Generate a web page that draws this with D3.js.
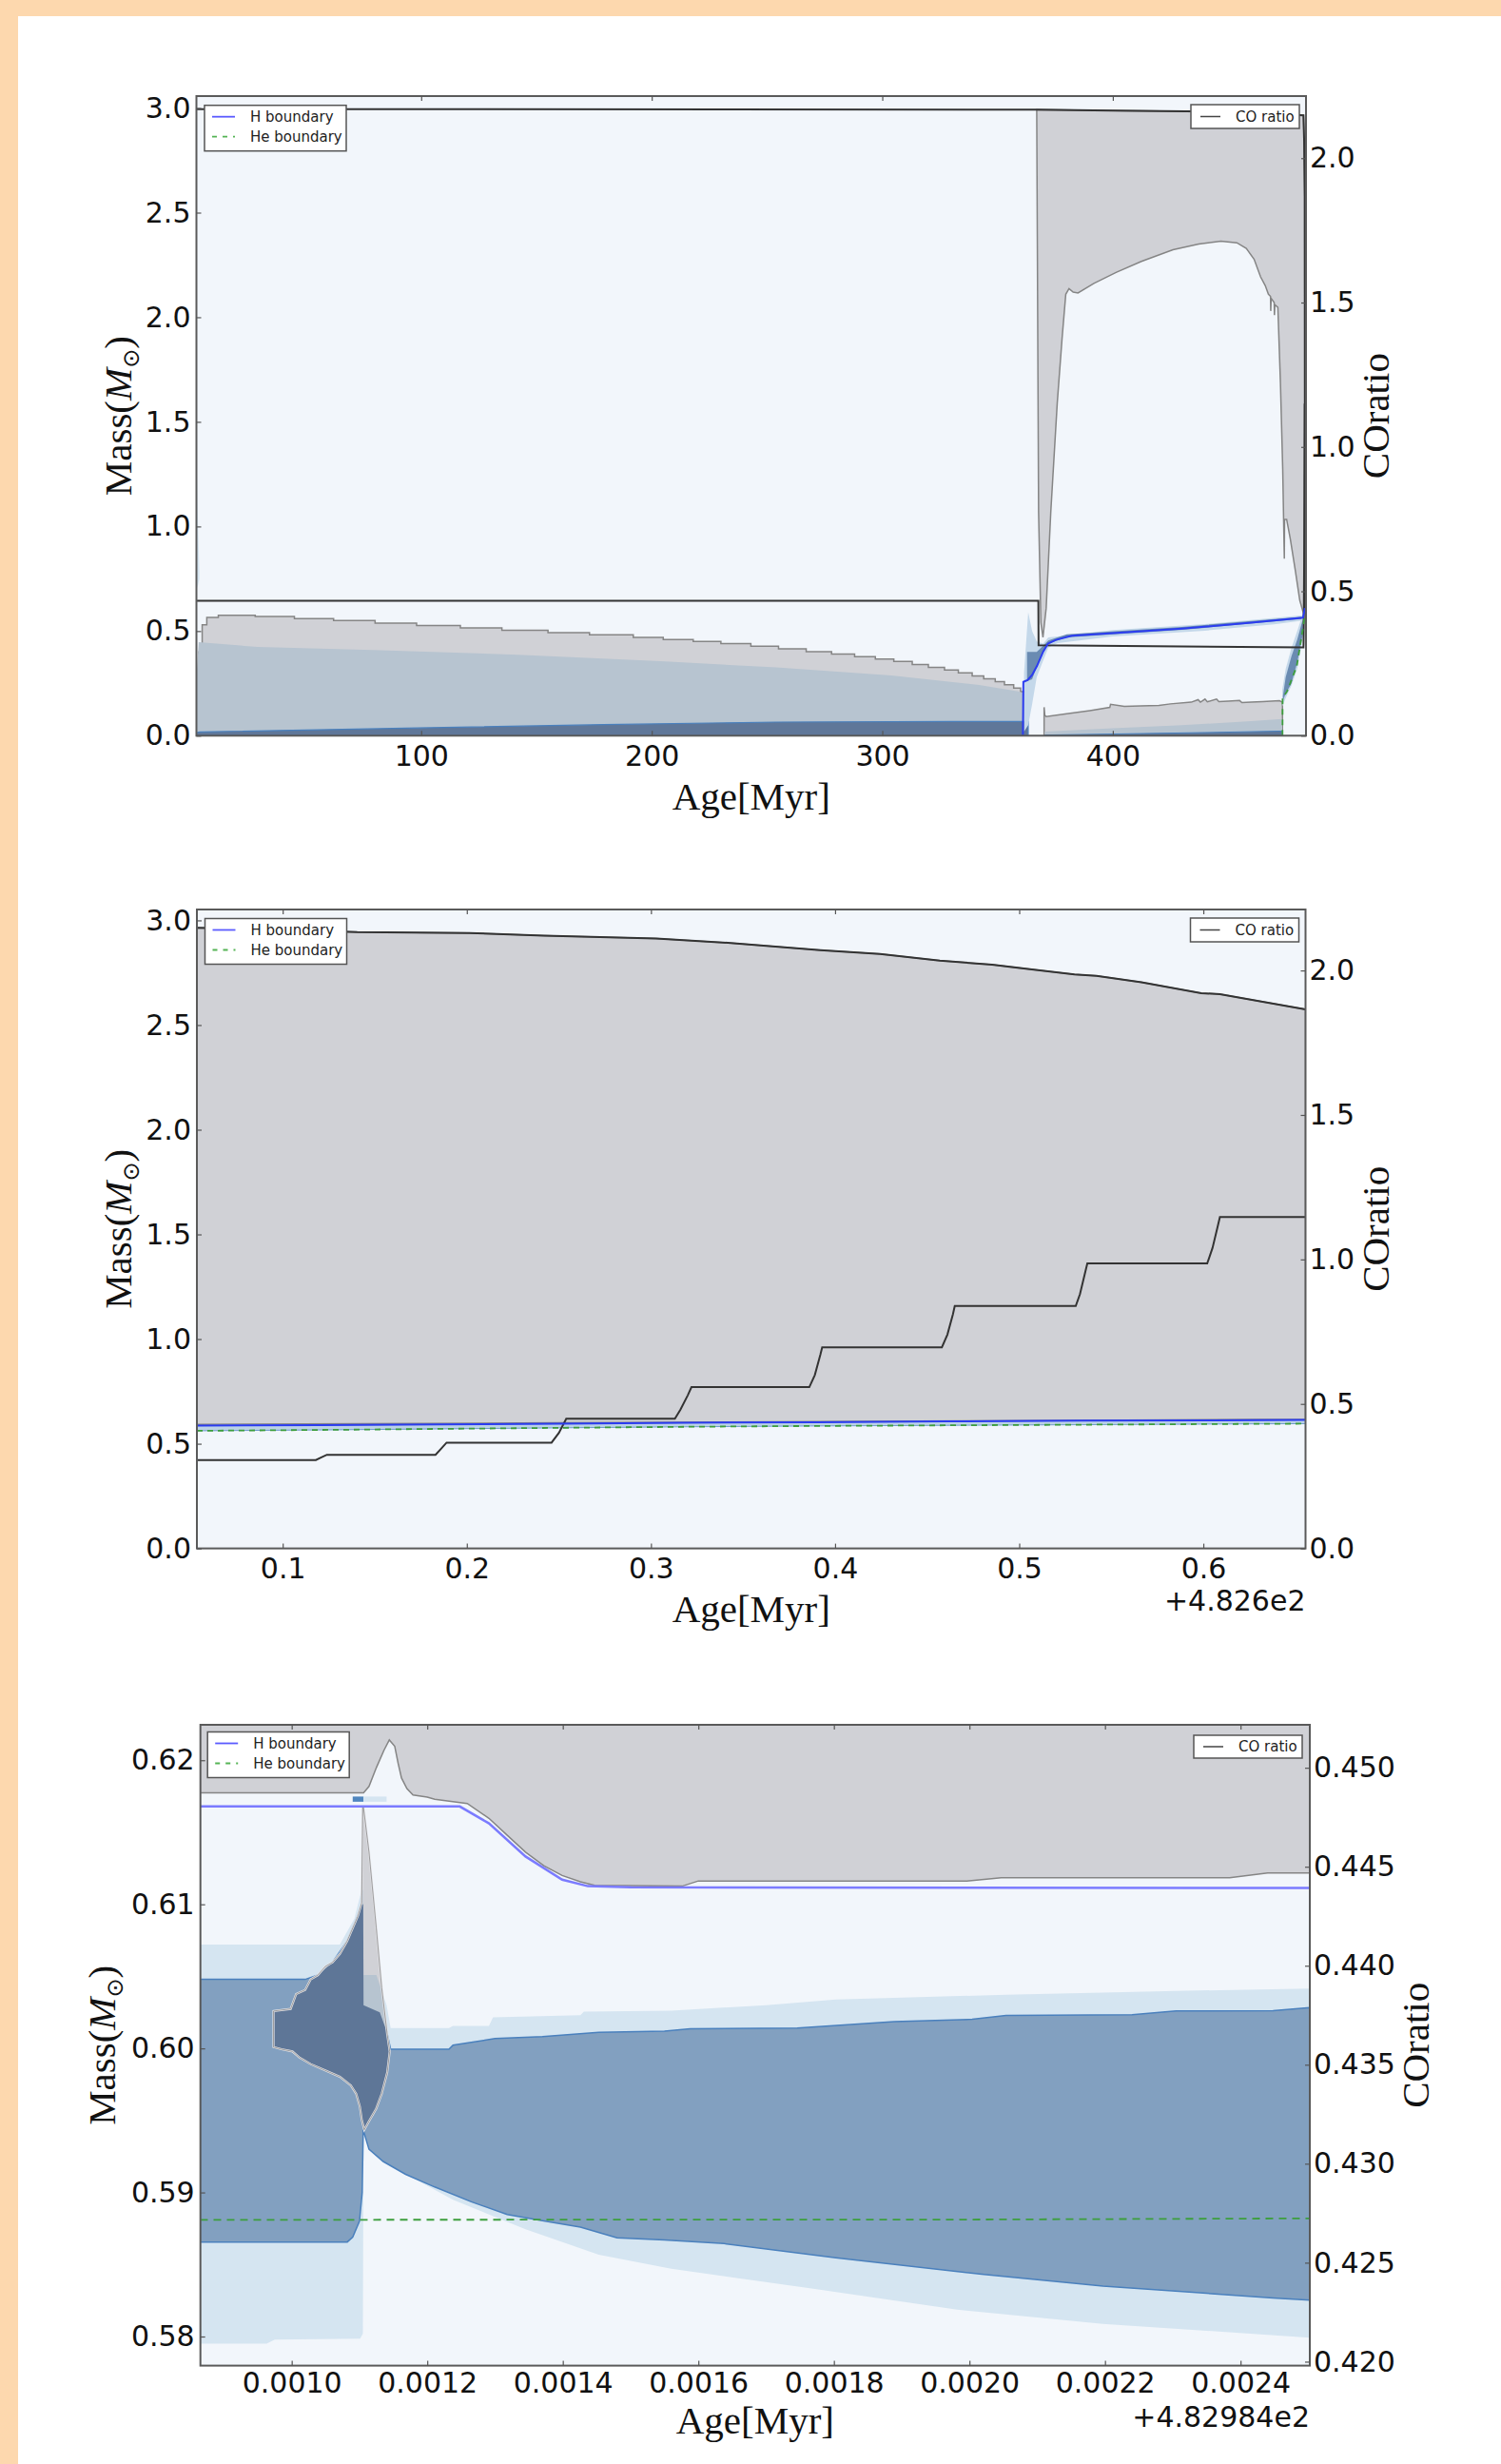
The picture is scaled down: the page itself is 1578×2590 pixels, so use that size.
<!DOCTYPE html>
<html><head><meta charset="utf-8">
<script src="https://cdn.jsdelivr.net/npm/d3@7"></script>
<style>body{margin:0;background:#fff}svg{display:block}</style>
</head><body>
<svg id="fig" width="1578" height="2590"></svg>
<script>
// ================= DATA =================
// ---- Panel 1 : whole evolution, Age [Myr] ----
const P1_X_TICKS = [100, 200, 300, 400];
const P1_Y_TICKS = [0, 0.5, 1.0, 1.5, 2.0, 2.5, 3.0];
const P1_Y2_TICKS = [0, 0.5, 1.0, 1.5, 2.0];
const P1_STAR_MASS = [[2.5,2.995],[367,2.992],[400,2.988],[450,2.982],[482.7,2.965],[483.0,2.84],[483.25,2.58],[483.35,0.61]];
const P1_ENV_BOTTOM = [[367.0,2.98],[367.8,1.07],[368.8,0.54],[369.7,0.47],[371.1,0.61],[373.1,1.07],[375.9,1.59],[378.0,1.90],[379.6,2.11],[381.0,2.137],[382.8,2.12],[384.9,2.116],[391.8,2.162],[401.4,2.214],[412.4,2.267],[426.1,2.323],[437.3,2.35],[446.9,2.364],[453.8,2.356],[457.9,2.329],[461.3,2.277],[464.1,2.193],[466.1,2.152],[467.5,2.11],[468.4,2.10],[468.5,2.03],[468.7,2.09],[470.0,2.07],[470.1,2.01],[470.3,2.06],[471.6,2.047],[472.7,1.69],[473.7,1.274],[474.3,0.90],[474.4,0.846],[474.5,1.034],[475.4,1.034],[477.0,0.94],[479.1,0.794],[481.1,0.647],[482.7,0.585],[483.0,0.59],[483.25,0.60],[483.35,0.605]];
const P1_MS_CORE = [[2.6,0.21],[3.5,0.40],[5,0.53],[7,0.565],[12,0.576],[28,0.570],[45,0.560],[62,0.550],[80,0.538],[98,0.527],[117,0.515],[135,0.504],[155,0.493],[173,0.482],[192,0.470],[205,0.460],[218,0.450],[230,0.440],[243,0.428],[255,0.415],[267,0.402],[278,0.390],[288,0.378],[297,0.366],[305,0.355],[313,0.340],[320,0.326],[327,0.314],[333,0.300],[339,0.286],[344,0.272],[349,0.258],[353,0.244],[357,0.228],[360,0.210],[362,0.20]];
const P1_MS_STEEL = [[2.6,0.30],[3.5,0.447],[29,0.424],[79,0.409],[142,0.387],[204,0.356],[254,0.326],[304,0.288],[342,0.242],[359,0.212],[362,0.20]];
const P1_MS_BURN = [[2.6,0.015],[4,0.018],[104,0.038],[179,0.053],[254,0.065],[330,0.068],[363.3,0.068]];
const P1_HE_CORE = [[370.2,0.0],[370.2,0.136],[370.5,0.098],[371.1,0.091],[380,0.105],[390,0.12],[398.7,0.135],[399,0.150],[405,0.140],[412,0.142],[420,0.145],[425,0.152],[434,0.160],[437,0.172],[438,0.16],[440,0.175],[441,0.162],[445,0.175],[446,0.163],[450,0.165],[455,0.168],[456,0.158],[460,0.160],[465,0.163],[472.3,0.167],[473.6,0.16],[473.6,0.0]];
const P1_HE_STEEL = [[370.5,0.02],[400,0.035],[430,0.05],[460,0.07],[473.5,0.08]];
const P1_HE_BURN = [[370.5,0.003],[400,0.008],[440,0.015],[473.5,0.022]];
const P1_PRE_MS = [[2.5,0.70,1.35],[3.2,0.72,1.0],[3.8,0.75,0.78]];
const P1_H_SHELL_LIGHT = [[361.5,0.02,0.30],[363.3,0.05,0.59],[365,0.15,0.50],[367,0.28,0.45],[369.8,0.36,0.44],[372,0.42,0.47],[376,0.442,0.474],[400,0.474,0.505],[440,0.502,0.533],[470,0.532,0.563],[482.5,0.550,0.575]];
const P1_H_SHELL_DARK = [[362.8,0.26,0.40],[365,0.27,0.40],[367,0.33,0.40],[369.8,0.40,0.43],[372,0.44,0.455],[380,0.470,0.484],[430,0.506,0.520],[482.5,0.558,0.569]];
const P1_HE_SHELL_LIGHT = [[473.5,0.14,0.22],[475,0.18,0.32],[477.5,0.24,0.42],[480,0.32,0.50],[483,0.50,0.60]];
const P1_HE_SHELL_DARK = [[473.8,0.17,0.19],[475,0.20,0.28],[477.5,0.25,0.38],[480,0.35,0.46],[482.5,0.49,0.56]];
const P1_H_BOUNDARY = [[361.0,0.0],[361.1,0.10],[361.2,0.257],[363.0,0.265],[365,0.29],[367.1,0.333],[369.8,0.402],[371.9,0.44],[375.3,0.458],[382.2,0.478],[400,0.490],[430,0.512],[460,0.540],[482.5,0.564],[483.3,0.61]];
const P1_HE_BOUNDARY = [[473.6,0.0],[473.65,0.18],[475.6,0.212],[479.8,0.333],[482.5,0.515],[483.3,0.58]];
const P1_CO = [[2.5,0.467],[367.7,0.467],[367.8,0.313],[482.7,0.306],[482.75,0.32],[482.85,0.40],[483.0,0.60],[483.1,0.84],[483.25,1.15]];

// ---- Panel 2 : thermal pulses, Age - 482.6 [Myr] ----
const P2_OFFSET_LABEL = "+4.826e2";
const P2_X_TICKS = [0.1, 0.2, 0.3, 0.4, 0.5, 0.6];
const P2_Y_TICKS = [0, 0.5, 1.0, 1.5, 2.0, 2.5, 3.0];
const P2_Y2_TICKS = [0, 0.5, 1.0, 1.5, 2.0];
const P2_STAR_MASS = [[0.0534,2.965],[0.1,2.955],[0.1405,2.944],[0.2014,2.940],[0.2419,2.927],[0.3028,2.913],[0.3433,2.892],[0.392,2.858],[0.4244,2.84],[0.4569,2.808],[0.4853,2.788],[0.53,2.742],[0.542,2.735],[0.5664,2.704],[0.5989,2.652],[0.609,2.648],[0.6555,2.575]];
const P2_ENV_BOTTOM = [[0.0534,0.592],[0.25,0.600],[0.39,0.606],[0.534,0.612],[0.6555,0.617]];
const P2_H_BOUNDARY = [[0.0534,0.587],[0.12,0.589],[0.185,0.592],[0.25,0.596],[0.318,0.600],[0.39,0.603],[0.461,0.607],[0.534,0.610],[0.605,0.612],[0.6555,0.614]];
const P2_HE_BOUNDARY = [[0.0534,0.562],[0.12,0.566],[0.185,0.571],[0.25,0.576],[0.318,0.581],[0.39,0.585],[0.461,0.588],[0.534,0.591],[0.605,0.594],[0.6555,0.596]];
const P2_CO = [[0.0534,0.306],[0.118,0.306],[0.121,0.315],[0.124,0.324],[0.183,0.324],[0.186,0.345],[0.189,0.366],[0.246,0.366],[0.25,0.40],[0.254,0.449],[0.313,0.449],[0.316,0.48],[0.32,0.53],[0.322,0.558],[0.386,0.558],[0.389,0.60],[0.392,0.67],[0.393,0.696],[0.458,0.696],[0.461,0.74],[0.464,0.81],[0.465,0.839],[0.5307,0.839],[0.533,0.88],[0.536,0.96],[0.537,0.986],[0.6021,0.986],[0.605,1.04],[0.608,1.12],[0.609,1.147],[0.6555,1.147]];

// ---- Panel 3 : one pulse, Age - 482.984 [Myr] ----
const P3_OFFSET_LABEL = "+4.82984e2";
const P3_X_TICKS = [0.0010, 0.0012, 0.0014, 0.0016, 0.0018, 0.0020, 0.0022, 0.0024];
const P3_Y_TICKS = [0.58, 0.59, 0.60, 0.61, 0.62];
const P3_Y2_TICKS = [0.420, 0.425, 0.430, 0.435, 0.440, 0.445, 0.450];
const P3_ENV_BOTTOM = [[0.000865,0.61774],[0.001106,0.61774],[0.001114,0.61818],[0.001125,0.61950],[0.001136,0.62068],[0.001144,0.62141],[0.001152,0.62097],[0.001157,0.61979],[0.001162,0.61877],[0.001170,0.61803],[0.001179,0.61759],[0.001200,0.61744],[0.001211,0.61729],[0.001243,0.61709],[0.001259,0.61700],[0.001291,0.61597],[0.001318,0.61479],[0.001345,0.61362],[0.001372,0.61268],[0.001399,0.61200],[0.001426,0.61156],[0.001447,0.61132],[0.001576,0.61126],[0.001600,0.61162],[0.001996,0.61162],[0.002047,0.61185],[0.002384,0.61185],[0.002440,0.61217],[0.002503,0.61217]];
const P3_H_BOUNDARY = [[0.000865,0.61679],[0.001248,0.61679],[0.001291,0.61562],[0.001345,0.61332],[0.001399,0.61171],[0.001437,0.61126],[0.001500,0.61118],[0.002503,0.61113]];
const P3_HE_BOUNDARY = [[0.000865,0.58810],[0.002000,0.58812],[0.002503,0.58820]];
const P3_LIGHT_TOP = [[0.000865,0.60721],[0.001071,0.60721],[0.0010925,0.6090],[0.0011032,0.6110],[0.0011055,0.6110],[0.001106,0.6051],[0.001125,0.6051],[0.001140,0.6030],[0.001146,0.60141],[0.001232,0.60141],[0.001238,0.60156],[0.001291,0.60156],[0.001297,0.60215],[0.001426,0.60230],[0.001431,0.60255],[0.001560,0.60262],[0.001700,0.60300],[0.001803,0.60340],[0.002054,0.60372],[0.002305,0.60399],[0.002503,0.60415]];
const P3_LIGHT_BOTTOM = [[0.000865,0.57950],[0.000963,0.57950],[0.000975,0.57979],[0.001101,0.57985],[0.001105,0.58020],[0.001106,0.59435],[0.001109,0.59391],[0.001157,0.59156],[0.001238,0.58950],[0.001345,0.58744],[0.001453,0.58568],[0.001560,0.58470],[0.001767,0.58333],[0.001982,0.58186],[0.002197,0.58088],[0.002503,0.57991]];
const P3_BAND_TOP = [[0.000865,0.60479],[0.0010199,0.60479],[0.0010387,0.60509],[0.0010602,0.60597],[0.0010817,0.60744],[0.0010978,0.60921],[0.0011032,0.6100],[0.0011055,0.6100],[0.0011060,0.6030],[0.001130,0.6025],[0.001140,0.6012],[0.001146,0.59994],[0.001232,0.59994],[0.001238,0.60023],[0.001300,0.60068],[0.001370,0.60082],[0.001453,0.60112],[0.001550,0.60120],[0.001588,0.60136],[0.001746,0.60142],[0.001889,0.60185],[0.002004,0.60202],[0.002054,0.60228],[0.002240,0.60234],[0.002305,0.60260],[0.002448,0.60262],[0.002503,0.60283]];
const P3_BAND_BOTTOM = [[0.000865,0.58656],[0.001082,0.58656],[0.001090,0.58690],[0.001100,0.58800],[0.001104,0.59000],[0.0011055,0.59435],[0.001114,0.59300],[0.001135,0.59215],[0.001168,0.59126],[0.001211,0.59038],[0.001265,0.58935],[0.001318,0.58847],[0.001372,0.58803],[0.001426,0.58759],[0.001480,0.58685],[0.001550,0.58670],[0.001638,0.58645],[0.001803,0.58547],[0.002018,0.58432],[0.002197,0.58350],[0.002448,0.58268],[0.002503,0.58252]];
const P3_PULSE = [[0.0009731,0.60259],[0.0009984,0.60274],[0.0010065,0.60377],[0.0010199,0.60406],[0.0010280,0.60479],[0.0010387,0.60509],[0.0010495,0.60568],[0.0010602,0.60597],[0.0010710,0.60656],[0.0010817,0.60744],[0.0010925,0.60862],[0.0010978,0.60921],[0.0011032,0.61009],[0.0011048,0.61671],[0.0011059,0.61671],[0.0011140,0.61362],[0.0011247,0.60838],[0.0011328,0.60421],[0.0011409,0.60097],[0.0011446,0.59979],[0.0011409,0.59832],[0.0011328,0.59685],[0.0011247,0.59582],[0.0011140,0.59494],[0.0011070,0.59435],[0.0011032,0.59509],[0.0011005,0.59597],[0.0010952,0.59685],[0.0010871,0.59744],[0.0010710,0.59803],[0.0010495,0.59847],[0.0010280,0.59891],[0.0010118,0.59935],[0.0010011,0.59979],[0.0009849,0.59994],[0.0009731,0.60009]];
const P3_BLOBS = [[0.001090,0.001106,0.61712,0.61748,"dark"],[0.001106,0.001140,0.61712,0.61748,"light"]];

// ================= DRAWING =================
const C = {bg:'#f2f6fb', gray:'#d0d1d6', grayEdge:'#858585', light:'#d5e5f1', shellLight:'#c4d8ea', steel:'#b7c4d0',
  band:'#82a0c0', dark:'#5e7697', shellDark:'#6a8bb2', bandEdge:'#4a80bd', h:'#2b3cf0', he:'#3d9e3d', black:'#333'};
const FT = "'DejaVu Sans', sans-serif";
const FS = "'Liberation Serif', 'Times New Roman', serif";
const svg = d3.select('#fig');
const defs = svg.append('defs');
svg.append('rect').attr('width',1578).attr('height',2590).attr('fill','#fdd8ae');
svg.append('rect').attr('x',19).attr('y',17).attr('width',1559).attr('height',2573).attr('fill','#fff');

function makePanel(cfg){
  const x = d3.scaleLinear().domain(cfg.xDomain).range(cfg.xRange);
  const y = d3.scaleLinear().domain(cfg.yDomain).range(cfg.yRange);
  const y2 = d3.scaleLinear().domain(cfg.y2Domain).range(cfg.yRange);
  const [x0,x1] = cfg.xRange, [yb,yt] = cfg.yRange;
  const g = svg.append('g');
  defs.append('clipPath').attr('id',cfg.id+'clip').append('rect')
    .attr('x',x0).attr('y',yt).attr('width',x1-x0).attr('height',yb-yt);
  const plot = g.append('g').attr('clip-path',`url(#${cfg.id}clip)`);
  plot.append('rect').attr('x',x0).attr('y',yt).attr('width',x1-x0).attr('height',yb-yt).attr('fill',C.bg);
  const line = (ys)=>d3.line().x(d=>x(d[0])).y(d=>ys(d[1]));
  const closed = d3.line().x(d=>x(d[0])).y(d=>y(d[1])).curve(d3.curveLinearClosed);
  const areaUp = d3.area().x(d=>x(d[0])).y0(y(cfg.yDomain[0])).y1(d=>y(d[1]));
  const areaLoHi = d3.area().x(d=>x(d[0])).y0(d=>y(d[1])).y1(d=>y(d[2]));
  return {cfg,x,y,y2,x0,x1,yb,yt,g,plot,line,closed,areaUp,areaLoHi};
}
const band = (top,bottom)=>top.concat(bottom.slice().reverse());

function finishPanel(P){
  const c = P.cfg;
  P.g.append('rect').attr('x',P.x0).attr('y',P.yt).attr('width',P.x1-P.x0).attr('height',P.yb-P.yt)
    .attr('fill','none').attr('stroke','#5a5a5a').attr('stroke-width',2);
  const style = (sel)=>{ sel.attr('font-size',30).attr('font-family',FT).attr('color','#111');
    sel.select('.domain').remove(); sel.selectAll('.tick line').attr('stroke','#555').attr('stroke-width',1.2); };
  P.g.append('g').attr('transform',`translate(0,${P.yb})`)
    .call(d3.axisBottom(P.x).tickValues(c.xTicks).tickFormat(d3.format(c.xFmt)).tickSizeInner(-5).tickSizeOuter(0).tickPadding(c.xPad)).call(style);
  P.g.append('g').attr('transform',`translate(0,${P.yt})`)
    .call(d3.axisTop(P.x).tickValues(c.xTicks).tickFormat('').tickSizeInner(-5).tickSizeOuter(0)).call(style);
  P.g.append('g').attr('transform',`translate(${P.x0},0)`)
    .call(d3.axisLeft(P.y).tickValues(c.yTicks).tickFormat(d3.format(c.yFmt)).tickSizeInner(-5).tickSizeOuter(0).tickPadding(6)).call(style);
  P.g.append('g').attr('transform',`translate(${P.x1},0)`)
    .call(d3.axisRight(P.y2).tickValues(c.y2Ticks).tickFormat(d3.format(c.y2Fmt)).tickSizeInner(-5).tickSizeOuter(0).tickPadding(4)).call(style);
  const cy = (P.yb+P.yt)/2;
  const m = P.g.append('text').attr('transform',`translate(${c.massX},${cy}) rotate(-90)`).attr('text-anchor','middle')
    .attr('font-family',FS).attr('font-size',41).attr('fill','#111');
  m.append('tspan').text('Mass(');
  m.append('tspan').attr('font-style','italic').text('M');
  m.append('tspan').attr('font-family',FT).attr('font-size',24).attr('dy',8).text('\u2299');
  m.append('tspan').attr('dy',-8).text(')');
  P.g.append('text').attr('transform',`translate(${c.coX},${cy}) rotate(-90)`).attr('text-anchor','middle')
    .attr('font-family',FS).attr('font-size',41).attr('fill','#111').text('COratio');
  P.g.append('text').attr('x',(P.x0+P.x1)/2).attr('y',c.ageY).attr('text-anchor','middle')
    .attr('font-family',FS).attr('font-size',41).attr('fill','#111').text('Age[Myr]');
  if(c.offset) P.g.append('text').attr('x',P.x1).attr('y',c.offsetY).attr('text-anchor','end')
    .attr('font-family',FT).attr('font-size',30).attr('fill','#111').text(c.offset);
  const L = P.g.append('g').attr('transform',`translate(${P.x0+c.legL[0]},${P.yt+c.legL[1]})`);
  L.append('rect').attr('width',149).attr('height',48).attr('fill','#fff').attr('stroke','#555').attr('stroke-width',1.5);
  L.append('line').attr('x1',8).attr('x2',32).attr('y1',12).attr('y2',12).attr('stroke','#5b5bff').attr('stroke-width',1.8);
  L.append('line').attr('x1',8).attr('x2',32).attr('y1',33).attr('y2',33).attr('stroke','#55b455').attr('stroke-width',1.8).attr('stroke-dasharray','5,6');
  L.append('text').attr('x',48).attr('y',12).attr('dy','0.35em').attr('font-family',FT).attr('font-size',15).attr('fill','#222').text('H boundary');
  L.append('text').attr('x',48).attr('y',33).attr('dy','0.35em').attr('font-family',FT).attr('font-size',15).attr('fill','#222').text('He boundary');
  const R = P.g.append('g').attr('transform',`translate(${P.x1-c.legR[0]-114},${P.yt+c.legR[1]})`);
  R.append('rect').attr('width',114).attr('height',c.legR[2]).attr('fill','#fff').attr('stroke','#555').attr('stroke-width',1.5);
  R.append('line').attr('x1',10).attr('x2',31).attr('y1',c.legR[2]/2).attr('y2',c.legR[2]/2).attr('stroke','#444').attr('stroke-width',1.5);
  R.append('text').attr('x',47).attr('y',c.legR[2]/2).attr('dy','0.35em').attr('font-family',FT).attr('font-size',15).attr('fill','#222').text('CO ratio');
}

// ---------- Panel 1 ----------
{
  const P = makePanel({id:'p1', xDomain:[2.5,483.8], xRange:[206.5,1373], yDomain:[0,3.057], y2Domain:[0,2.215], yRange:[773.3,101],
    xTicks:P1_X_TICKS, xFmt:'d', xPad:10, yTicks:P1_Y_TICKS, yFmt:'.1f', y2Ticks:P1_Y2_TICKS, y2Fmt:'.1f',
    massX:138, coX:1460, ageY:851, legL:[8.5,9.7], legR:[7,9,25]});
  const pl = P.plot;
  pl.append('path').attr('d',P.areaLoHi(P1_PRE_MS)).attr('fill',C.light);
  const envTop = P1_STAR_MASS.filter(d=>d[0]>=367);
  pl.append('path').attr('d',P.closed(band(envTop,P1_ENV_BOTTOM))).attr('fill',C.gray).attr('stroke',C.grayEdge).attr('stroke-width',1.5);
  pl.append('path').attr('d',P.areaUp.curve(d3.curveStepAfter)(P1_MS_CORE)).attr('fill',C.gray).attr('stroke',C.grayEdge).attr('stroke-width',1.5);
  P.areaUp.curve(d3.curveLinear);
  pl.append('path').attr('d',P.areaUp(P1_MS_STEEL)).attr('fill',C.steel);
  pl.append('path').attr('d',P.areaUp(P1_MS_BURN)).attr('fill','#5f7799').attr('stroke',C.bandEdge).attr('stroke-width',1.2);
  pl.append('path').attr('d',P.areaUp(P1_HE_CORE)).attr('fill',C.gray).attr('stroke',C.grayEdge).attr('stroke-width',1.5);
  pl.append('path').attr('d',P.areaUp(P1_HE_STEEL)).attr('fill',C.steel);
  pl.append('path').attr('d',P.areaUp(P1_HE_BURN)).attr('fill','#5f7799').attr('stroke',C.bandEdge).attr('stroke-width',1);
  pl.append('path').attr('d',P.areaLoHi(P1_H_SHELL_LIGHT)).attr('fill',C.shellLight);
  pl.append('path').attr('d',P.areaLoHi(P1_H_SHELL_DARK)).attr('fill',C.shellDark);
  pl.append('path').attr('d',P.areaLoHi(P1_HE_SHELL_LIGHT)).attr('fill',C.shellLight);
  pl.append('path').attr('d',P.areaLoHi(P1_HE_SHELL_DARK)).attr('fill',C.shellDark);
  pl.append('path').attr('d',P.line(P.y2)(P1_CO)).attr('fill','none').attr('stroke',C.black).attr('stroke-width',2);
  pl.append('path').attr('d',P.line(P.y)(P1_STAR_MASS)).attr('fill','none').attr('stroke',C.black).attr('stroke-width',2);
  pl.append('path').attr('d',P.line(P.y)(P1_H_BOUNDARY)).attr('fill','none').attr('stroke',C.h).attr('stroke-width',2);
  pl.append('path').attr('d',P.line(P.y)(P1_HE_BOUNDARY)).attr('fill','none').attr('stroke',C.he).attr('stroke-width',1.8).attr('stroke-dasharray','6,5');
  finishPanel(P);
}

// ---------- Panel 2 ----------
{
  const P = makePanel({id:'p2', xDomain:[0.0534,0.6555], xRange:[207,1372.5], yDomain:[0,3.052], y2Domain:[0,2.211], yRange:[1627.6,956],
    xTicks:P2_X_TICKS, xFmt:'.1f', xPad:10, yTicks:P2_Y_TICKS, yFmt:'.1f', y2Ticks:P2_Y2_TICKS, y2Fmt:'.1f',
    massX:138, coX:1460, ageY:1705, offset:P2_OFFSET_LABEL, offsetY:1693, legL:[8.5,9.5], legR:[7,9,25]});
  const pl = P.plot;
  pl.append('path').attr('d',P.closed(band(P2_STAR_MASS,P2_ENV_BOTTOM))).attr('fill',C.gray).attr('stroke',C.grayEdge).attr('stroke-width',1.5);
  pl.append('path').attr('d',P.closed(band(P2_H_BOUNDARY,P2_HE_BOUNDARY))).attr('fill','#bcd2e6').attr('stroke','#6f9acb').attr('stroke-width',1);
  pl.append('path').attr('d',P.line(P.y2)(P2_CO)).attr('fill','none').attr('stroke',C.black).attr('stroke-width',2);
  pl.append('path').attr('d',P.line(P.y)(P2_STAR_MASS)).attr('fill','none').attr('stroke',C.black).attr('stroke-width',2);
  pl.append('path').attr('d',P.line(P.y)(P2_H_BOUNDARY)).attr('fill','none').attr('stroke',C.h).attr('stroke-width',2);
  pl.append('path').attr('d',P.line(P.y)(P2_HE_BOUNDARY)).attr('fill','none').attr('stroke',C.he).attr('stroke-width',1.8).attr('stroke-dasharray','6,5');
  finishPanel(P);
}

// ---------- Panel 3 ----------
{
  const P = makePanel({id:'p3', xDomain:[0.0008653,0.0025022], xRange:[210.7,1377], yDomain:[0.57798,0.62246], y2Domain:[0.4198,0.45217], yRange:[2486.6,1813],
    xTicks:P3_X_TICKS, xFmt:'.4f', xPad:7, yTicks:P3_Y_TICKS, yFmt:'.2f', y2Ticks:P3_Y2_TICKS, y2Fmt:'.3f',
    massX:121, coX:1502, ageY:2558, offset:P3_OFFSET_LABEL, offsetY:2551, legL:[7.5,7.5], legR:[8,11,24]});
  const pl = P.plot;
  const topVal = P.cfg.yDomain[1];
  pl.append('path').attr('d',d3.area().x(d=>P.x(d[0])).y0(d=>P.y(d[1])).y1(P.y(topVal))(P3_ENV_BOTTOM)).attr('fill',C.gray);
  pl.append('path').attr('d',P.line(P.y)(P3_ENV_BOTTOM)).attr('fill','none').attr('stroke',C.grayEdge).attr('stroke-width',1.5);
  const lightPoly = band(P3_LIGHT_TOP,P3_LIGHT_BOTTOM);
  const darkPoly = band(P3_BAND_TOP,P3_BAND_BOTTOM);
  defs.append('clipPath').attr('id','p3light').append('path').attr('d',P.closed(lightPoly));
  defs.append('clipPath').attr('id','p3dark').append('path').attr('d',P.closed(darkPoly));
  pl.append('path').attr('d',P.closed(lightPoly)).attr('fill',C.light);
  pl.append('path').attr('d',P.closed(darkPoly)).attr('fill',C.band).attr('stroke',C.bandEdge).attr('stroke-width',1.5);
  pl.selectAll('rect.blob').data(P3_BLOBS).join('rect').attr('class','blob')
    .attr('x',d=>P.x(d[0])).attr('width',d=>P.x(d[1])-P.x(d[0]))
    .attr('y',d=>P.y(d[3])).attr('height',d=>P.y(d[2])-P.y(d[3]))
    .attr('fill',d=>d[4]==='dark'?'#4f86bf':C.light);
  pl.append('path').attr('d',P.closed(P3_PULSE)).attr('fill',C.gray);
  pl.append('g').attr('clip-path','url(#p3light)').append('path').attr('d',P.closed(P3_PULSE)).attr('fill',C.steel);
  pl.append('g').attr('clip-path','url(#p3dark)').append('path').attr('d',P.closed(P3_PULSE)).attr('fill',C.dark);
  pl.append('path').attr('d',P.closed(P3_PULSE)).attr('fill','none').attr('stroke','#e4e4e8').attr('stroke-width',2.2);
  pl.append('path').attr('d',P.closed(P3_PULSE)).attr('fill','none').attr('stroke','#8a8a8a').attr('stroke-width',0.8);
  pl.append('path').attr('d',P.line(P.y)(P3_H_BOUNDARY)).attr('fill','none').attr('stroke','#7b7bff').attr('stroke-width',2.5);
  pl.append('path').attr('d',P.line(P.y)(P3_HE_BOUNDARY)).attr('fill','none').attr('stroke',C.he).attr('stroke-width',1.8).attr('stroke-dasharray','8,6');
  finishPanel(P);
}
</script>
</body></html>
